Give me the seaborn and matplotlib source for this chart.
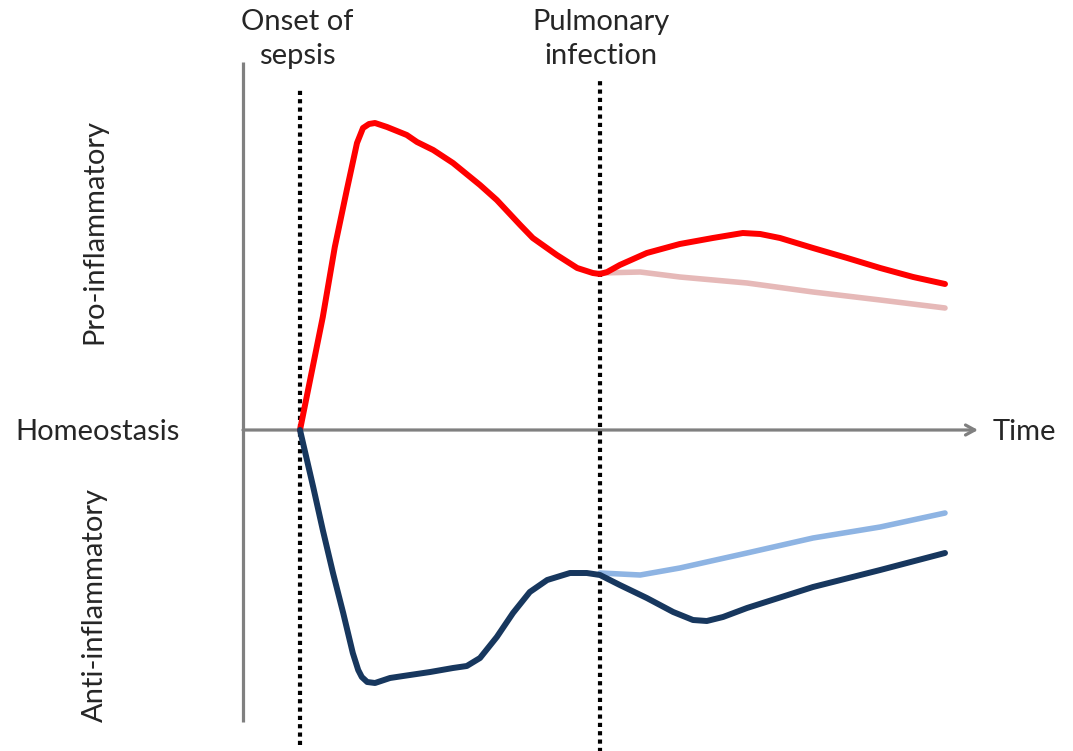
import matplotlib
matplotlib.use("Agg")
import matplotlib.pyplot as plt
import seaborn as sns
import numpy as np

sns.set_theme(style="white")
plt.rcParams['font.family'] = ['Lato', 'DejaVu Sans']

# ---- data (time units, response: + pro-inflammatory, - anti-inflammatory) ----
onset_time = 0.95
infection_time = 5.95

pro_time = [0.95, 1.33, 1.53, 1.73, 1.90, 2.00, 2.10, 2.20, 2.40, 2.73, 2.90, 3.17, 3.50, 3.95,
            4.23, 4.62, 4.83, 5.23, 5.57, 5.83, 5.95, 6.07, 6.28, 6.73, 7.28, 7.83, 8.33, 8.62,
            8.95, 9.50, 10.07, 10.62, 11.17, 11.70]
pro_value = [0.00, 1.13, 1.83, 2.40, 2.87, 3.02, 3.06, 3.07, 3.03, 2.95, 2.88, 2.80, 2.67, 2.45,
             2.30, 2.05, 1.92, 1.75, 1.62, 1.57, 1.56, 1.58, 1.65, 1.77, 1.86, 1.92, 1.97, 1.96,
             1.92, 1.82, 1.72, 1.62, 1.53, 1.46]

pro_noinf_time = [5.95, 6.62, 7.28, 8.40, 9.50, 10.62, 11.70]
pro_noinf_value = [1.57, 1.58, 1.53, 1.47, 1.38, 1.30, 1.22]

anti_time = [0.95, 1.17, 1.33, 1.50, 1.67, 1.83, 1.92, 1.98, 2.07, 2.20, 2.45, 2.67, 3.12, 3.50,
             3.73, 3.95, 4.23, 4.50, 4.78, 5.07, 5.45, 5.73, 5.95, 6.28, 6.73, 7.17, 7.50,
             7.73, 8.00, 8.40, 9.50, 10.62, 11.70]
anti_value = [0.00, -0.57, -1.00, -1.43, -1.83, -2.23, -2.40, -2.47, -2.52, -2.53, -2.48,
              -2.46, -2.42, -2.38, -2.36, -2.28, -2.07, -1.83, -1.62, -1.50, -1.43, -1.43,
              -1.45, -1.55, -1.68, -1.82, -1.90, -1.91, -1.87, -1.78, -1.57, -1.40, -1.23]

anti_noinf_time = [5.95, 6.62, 7.28, 8.40, 9.50, 10.62, 11.70]
anti_noinf_value = [-1.43, -1.45, -1.38, -1.23, -1.08, -0.97, -0.83]

RED = "#FF0000"
LIGHT_RED = "#E6B9B8"
NAVY = "#17375E"
LIGHT_BLUE = "#8EB4E3"
GRAY = "#808080"

W, H = 1073, 751
fig = plt.figure(figsize=(W / 100, H / 100), dpi=100)
ax = fig.add_axes([0, 0, 1, 1])
# pixel-consistent limits: 60 px per time unit, 100 px per response unit
ax.set_xlim(-243 / 60, (W - 243) / 60)
ax.set_ylim(-(H - 430) / 100, 430 / 100)
ax.axis("off")

# axes (decoration)
ax.plot([0, 0], [-2.92, 3.68], color=GRAY, lw=2.3, solid_capstyle="butt", zorder=1)
ax.annotate("", xy=(12.25, 0), xytext=(0, 0),
            arrowprops=dict(arrowstyle="->,head_length=0.55,head_width=0.3",
                            color=GRAY, lw=2.3, shrinkA=0, shrinkB=0), zorder=1)

# event markers
ax.plot([onset_time, onset_time], [-3.15, 3.40], color="black", lw=3.0,
        linestyle=(0, (1, 1)), dash_capstyle="butt", zorder=2)
ax.plot([infection_time, infection_time], [-3.25, 3.53], color="black", lw=3.0,
        linestyle=(0, (1, 1)), dash_capstyle="butt", zorder=2)

kw = dict(ax=ax, sort=False, estimator=None, legend=False)
sns.lineplot(x=pro_noinf_time, y=pro_noinf_value, color=LIGHT_RED, lw=4.0,
             solid_capstyle="round", zorder=3, **kw)
sns.lineplot(x=anti_noinf_time, y=anti_noinf_value, color=LIGHT_BLUE, lw=4.0,
             solid_capstyle="round", zorder=3, **kw)
sns.lineplot(x=pro_time, y=pro_value, color=RED, lw=4.3,
             solid_capstyle="round", solid_joinstyle="round", zorder=4, **kw)
sns.lineplot(x=anti_time, y=anti_value, color=NAVY, lw=4.3,
             solid_capstyle="round", solid_joinstyle="round", zorder=4, **kw)

fs = 21
ax.text(0.90, 3.91, "Onset of\nsepsis", ha="center", va="center", fontsize=fs,
        linespacing=1.42)
ax.text(5.97, 3.91, "Pulmonary\ninfection", ha="center", va="center", fontsize=fs,
        linespacing=1.42)
ax.text(-2.43, -0.02, "Homeostasis", ha="center", va="center", fontsize=fs)
ax.text(12.5, -0.02, "Time", ha="left", va="center", fontsize=fs)
ax.text(-2.47, 1.98, "Pro-inflammatory", ha="center", va="center", fontsize=fs,
        rotation=90)
ax.text(-2.47, -1.75, "Anti-inflammatory", ha="center", va="center", fontsize=fs,
        rotation=90)

fig.savefig("out.png", dpi=100)
